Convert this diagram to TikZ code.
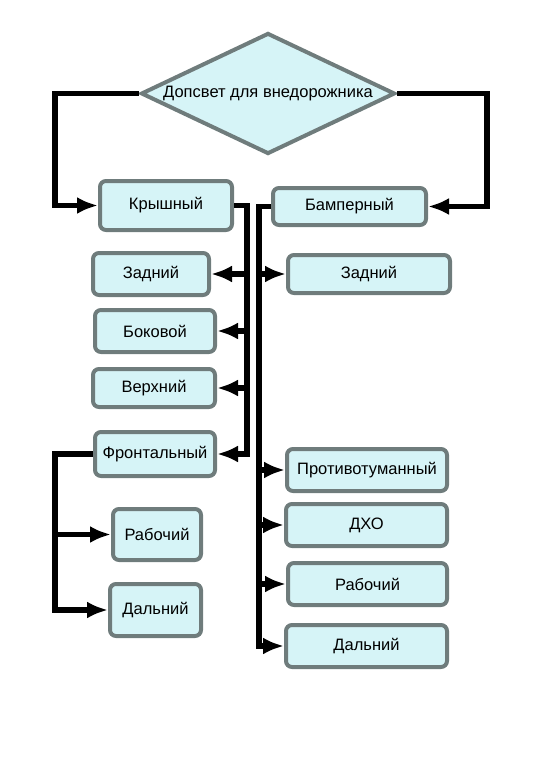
\documentclass[tikz,border=0pt]{standalone}
\usepackage{fontspec}
\setmainfont{Liberation Sans}
\usepackage{tikz}
\usetikzlibrary{arrows.meta,shapes.geometric}
\definecolor{boxfill}{HTML}{D6F4F7}
\definecolor{boxline}{HTML}{6F7C7C}
\tikzset{>={Latex[width=17pt,length=21pt]}}
\tikzset{
  box/.style={draw=boxline,fill=boxfill,line width=4pt,rounded corners=6pt,inner sep=0pt,font=\fontsize{16.5}{18}\selectfont},
  decision/.style={draw=boxline,fill=boxfill,line width=4pt,diamond,aspect=2.08,inner sep=0pt,font=\fontsize{16.5}{18}\selectfont},
  link/.style={line width=5.5pt,draw=black}
}

\begin{document}
\begin{tikzpicture}[x=1pt,y=-1pt]
\useasboundingbox (0,0) rectangle (542,768);

%Top decision
\node [decision,minimum width=254pt,minimum height=121pt] (top) at (268,93.5) {Допсвет для внедорожника};

%Roof branch
\node [box,minimum width=132pt,minimum height=49pt] (roof) at (166,205.5) {Крышный};
\node [box,minimum width=116pt,minimum height=42pt] (rrear) at (151,274) {Задний};
\node [box,minimum width=120pt,minimum height=42pt] (rside) at (155,331) {Боковой};
\node [box,minimum width=122pt,minimum height=38pt] (rupper) at (154,388) {Верхний};
\node [box,minimum width=120pt,minimum height=44pt] (rfront) at (155,454) {Фронтальный};
\node [box,minimum width=88pt,minimum height=51pt] (fwork) at (157,534.5) {Рабочий};
\node [box,minimum width=91pt,minimum height=52pt] (ffar) at (155.5,610) {Дальний};

%Bumper branch
\node [box,minimum width=153pt,minimum height=37pt] (bumper) at (349.5,206.5) {Бамперный};
\node [box,minimum width=162pt,minimum height=38pt] (brear) at (369,274) {Задний};
\node [box,minimum width=160pt,minimum height=42pt] (bfog) at (367,470) {Противотуманный};
\node [box,minimum width=161pt,minimum height=42pt] (bdrl) at (366.5,525) {ДХО};
\node [box,minimum width=159pt,minimum height=42pt] (bwork) at (367.5,584) {Рабочий};
\node [box,minimum width=161pt,minimum height=42pt] (bfar) at (366.5,646) {Дальний};

%Bus lines
\coordinate (lout) at (55,0);
\coordinate (rout) at (487,0);
\coordinate (rbus) at (247,0);
\coordinate (bbus) at (259,0);

\draw [link,->] (top.west) -- (top.west -| lout) |- (roof.west);
\draw [link,->] (top.east) -- (top.east -| rout) |- (bumper.east);

\draw [link,->] (roof.east) -- (roof.east -| rbus) |- (rfront.east);
\foreach \n in {rrear,rside,rupper}
  \draw [link,->] (\n.east -| rbus) -- (\n.east);

\draw [link,->] (bumper.west) -- (bumper.west -| bbus) |- (bfar.west);
\foreach \n in {brear,bfog,bdrl,bwork}
  \draw [link,->] (\n.west -| bbus) -- (\n.west);

\draw [link,->] (rfront.west) -- (rfront.west -| lout) |- (ffar.west);
\draw [link,->] (fwork.west -| lout) -- (fwork.west);

\end{tikzpicture}
\end{document}
